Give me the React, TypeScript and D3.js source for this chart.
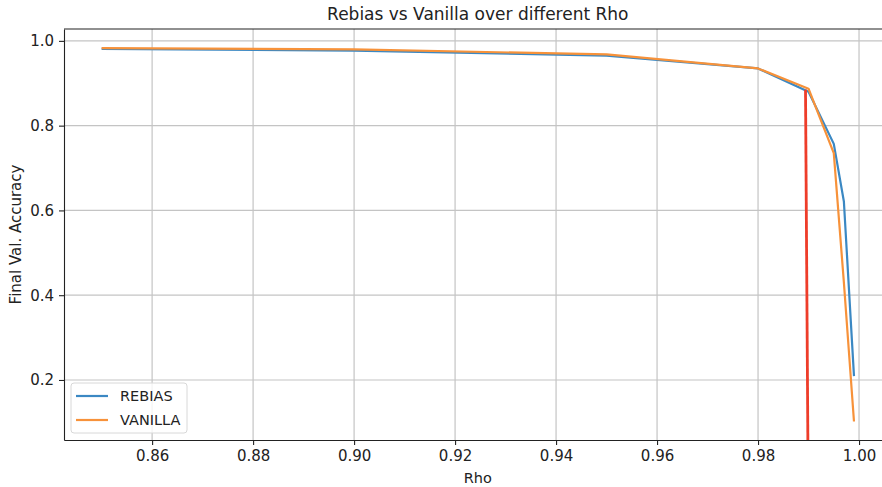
import * as d3 from 'd3'
import { useEffect, useRef } from 'react'

// Rho values and final validation accuracy for both runs
const rho = [0.85, 0.9, 0.95, 0.98, 0.99, 0.995, 0.997, 0.999]
const rebias = [0.981, 0.977, 0.965, 0.935, 0.88, 0.757, 0.621, 0.209]
const vanilla = [0.983, 0.98, 0.968, 0.935, 0.887, 0.735, 0.43, 0.102]

// red marker line drawn on top
const markerX = [0.9894, 0.9899]
const markerY = [0.885, 0.0]

const xTicks = [0.86, 0.88, 0.9, 0.92, 0.94, 0.96, 0.98, 1.0]
const yTicks = [0.2, 0.4, 0.6, 0.8, 1.0]

const series = [
  { name: 'REBIAS', values: rebias, color: '#3b88c3' },
  { name: 'VANILLA', values: vanilla, color: '#f7923a' },
]

export default function App() {
  const ref = useRef<SVGSVGElement>(null)

  useEffect(() => {
    const svg = d3.select(ref.current)
    svg.selectAll('*').remove()

    const margin = { top: 29, left: 64, bottom: 47 }
    const H = 487
    const plotRight = 891.6

    const x = d3.scaleLinear().domain([0.84255, 1.00645]).range([margin.left, plotRight])
    const y = d3.scaleLinear().domain([0.0584, 1.028]).range([H - margin.bottom, margin.top])

    const font = 'DejaVu Sans, sans-serif'

    svg.append('defs')
      .append('clipPath')
      .attr('id', 'plotclip')
      .append('rect')
      .attr('x', margin.left)
      .attr('y', margin.top)
      .attr('width', plotRight - margin.left)
      .attr('height', H - margin.bottom - margin.top)

    // grid
    const grid = svg.append('g')
    grid
      .selectAll('line.gx')
      .data(xTicks)
      .join('line')
      .attr('x1', (d) => x(d))
      .attr('x2', (d) => x(d))
      .attr('y1', margin.top)
      .attr('y2', H - margin.bottom)
      .attr('stroke', '#c4c4c4')
      .attr('stroke-width', 1.2)
    grid
      .selectAll('line.gy')
      .data(yTicks)
      .join('line')
      .attr('y1', (d) => y(d))
      .attr('y2', (d) => y(d))
      .attr('x1', margin.left)
      .attr('x2', plotRight)
      .attr('stroke', '#c4c4c4')
      .attr('stroke-width', 1.2)

    const line = d3
      .line<number>()
      .x((_, i) => x(rho[i]))
      .y((d) => y(d))

    const plot = svg.append('g').attr('clip-path', 'url(#plotclip)')
    series.forEach((s) => {
      plot
        .append('path')
        .datum(s.values)
        .attr('d', line)
        .attr('fill', 'none')
        .attr('stroke', s.color)
        .attr('stroke-width', 2.2)
        .attr('stroke-linejoin', 'round')
    })

    plot
      .append('line')
      .attr('x1', x(markerX[0]))
      .attr('y1', y(markerY[0]))
      .attr('x2', x(markerX[1]))
      .attr('y2', y(markerY[1]))
      .attr('stroke', '#ee3d2a')
      .attr('stroke-width', 2.8)

    // axes
    const xAxis = svg
      .append('g')
      .attr('transform', `translate(0,${H - margin.bottom})`)
      .call(
        d3.axisBottom(x).tickValues(xTicks).tickFormat(d3.format('.2f')).tickSize(5).tickSizeOuter(0).tickPadding(5)
      )
    const yAxis = svg
      .append('g')
      .attr('transform', `translate(${margin.left},0)`)
      .call(
        d3.axisLeft(y).tickValues(yTicks).tickFormat(d3.format('.1f')).tickSize(5).tickSizeOuter(0).tickPadding(5)
      )
    ;[xAxis, yAxis].forEach((a) => {
      a.select('.domain').attr('stroke', '#222').attr('stroke-width', 1.1)
      a.selectAll('.tick line').attr('stroke', '#222').attr('stroke-width', 1.1)
      a.selectAll('.tick text').attr('font-family', font).attr('font-size', 15).attr('fill', '#222')
    })

    // top spine
    svg
      .append('line')
      .attr('x1', margin.left)
      .attr('x2', plotRight)
      .attr('y1', margin.top)
      .attr('y2', margin.top)
      .attr('stroke', '#222')
      .attr('stroke-width', 1.1)

    // labels
    svg
      .append('text')
      .attr('x', (margin.left + plotRight) / 2)
      .attr('y', 20)
      .attr('text-anchor', 'middle')
      .attr('font-family', font)
      .attr('font-size', 17)
      .attr('fill', '#222')
      .text('Rebias vs Vanilla over different Rho')
    svg
      .append('text')
      .attr('x', (margin.left + plotRight) / 2)
      .attr('y', 483)
      .attr('text-anchor', 'middle')
      .attr('font-family', font)
      .attr('font-size', 14.5)
      .attr('fill', '#222')
      .text('Rho')
    svg
      .append('text')
      .attr('transform', `translate(21,${(margin.top + H - margin.bottom) / 2}) rotate(-90)`)
      .attr('text-anchor', 'middle')
      .attr('font-family', font)
      .attr('font-size', 15)
      .attr('fill', '#222')
      .text('Final Val. Accuracy')

    // legend
    const lg = svg.append('g').attr('transform', 'translate(71,383)')
    lg.append('rect')
      .attr('width', 116)
      .attr('height', 50)
      .attr('rx', 3)
      .attr('fill', 'white')
      .attr('fill-opacity', 0.8)
      .attr('stroke', '#d8d8d8')
    series.forEach((s, i) => {
      const yy = 13 + i * 24
      lg.append('line')
        .attr('x1', 5)
        .attr('x2', 37)
        .attr('y1', yy)
        .attr('y2', yy)
        .attr('stroke', s.color)
        .attr('stroke-width', 2.2)
      lg.append('text')
        .attr('x', 49)
        .attr('y', yy + 5)
        .attr('font-family', font)
        .attr('font-size', 14.5)
        .attr('fill', '#222')
        .text(s.name)
    })
  }, [])

  return (
    <svg
      ref={ref}
      width={882}
      height={487}
      style={{ position: 'absolute', left: 0, top: 0, background: 'white' }}
    />
  )
}
